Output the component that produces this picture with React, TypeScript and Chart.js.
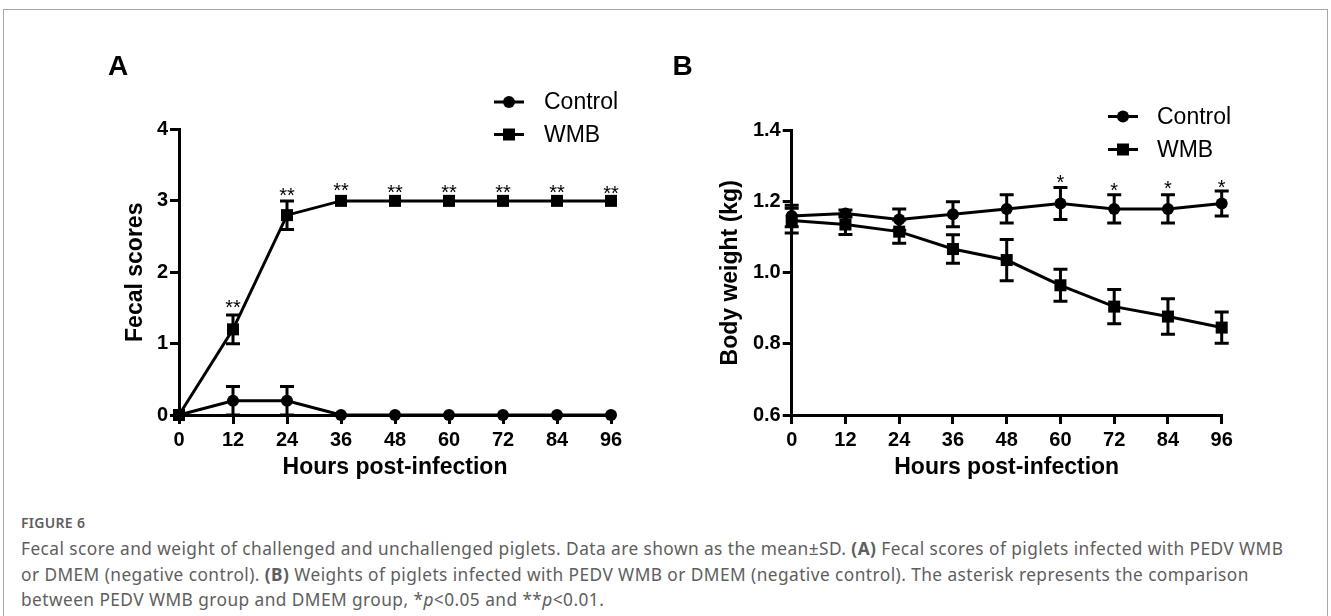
import React, { useEffect, useRef } from "react";
import { Chart, registerables } from "chart.js";

Chart.register(...registerables);

// ---------------- data ----------------
const hours = [0, 12, 24, 36, 48, 60, 72, 84, 96];
const seriesNames = ["Control", "WMB"];

const fecalControl = [0, 0.2, 0.2, 0, 0, 0, 0, 0, 0];
const fecalControlSD = [0, 0.2, 0.2, 0, 0, 0, 0, 0, 0];
const fecalWMB = [0, 1.2, 2.8, 3, 3, 3, 3, 3, 3];
const fecalWMBSD = [0, 0.2, 0.2, 0, 0, 0, 0, 0, 0];
const fecalStars = ["", "**", "**", "**", "**", "**", "**", "**", "**"];
const fecalStarLevel = [0, 1.575, 3.14, 3.21, 3.19, 3.19, 3.19, 3.19, 3.17];
const fecalTicks = [0, 1, 2, 3, 4];

const weightControl = [1.16, 1.167, 1.15, 1.165, 1.18, 1.195, 1.18, 1.18, 1.195];
const weightControlSD = [0.03, 0.01, 0.03, 0.035, 0.04, 0.045, 0.04, 0.04, 0.035];
const weightWMB = [1.147, 1.136, 1.116, 1.067, 1.036, 0.965, 0.905, 0.877, 0.846];
const weightWMBSD = [0.035, 0.028, 0.033, 0.04, 0.058, 0.045, 0.048, 0.05, 0.044];
const weightStars = ["", "", "", "", "", "*", "*", "*", "*"];
const weightStarLevel = [0, 0, 0, 0, 0, 1.269, 1.247, 1.251, 1.253];
const weightTicks = [0.6, 0.8, 1.0, 1.2, 1.4];

// ---------------- styling ----------------
const FONT = "'Liberation Sans', Arial, Helvetica, sans-serif";
Chart.defaults.font.family = FONT;

type PanelCfg = {
  letter: string;
  letterX: number;
  canvasW: number;
  canvasH: number;
  plotLeft: number;
  plotRight: number;
  plotTop: number;
  plotBottom: number;
  yTitle: string;
  yTitleX: number;
  yTicks: number[];
  decimals: number;
  control: number[];
  controlSD: number[];
  wmb: number[];
  wmbSD: number[];
  stars: string[];
  starLevel: number[];
  legendLineX: [number, number];
  legendTextX: number;
  legendY: [number, number];
};

const pts = (vals: number[]) => vals.map((v, i) => ({ x: hours[i], y: v }));

function overlayPlugin(cfg: PanelCfg) {
  return {
    id: "overlay" + cfg.letter,
    afterDatasetsDraw(chart: any) {
      const ctx = chart.ctx as CanvasRenderingContext2D;
      const ys = chart.scales.y;
      const xs = chart.scales.x;
      ctx.save();
      ctx.strokeStyle = "#000";
      ctx.fillStyle = "#000";
      ctx.lineWidth = 3;
      const sds = [cfg.controlSD, cfg.wmbSD];
      const vals = [cfg.control, cfg.wmb];
      sds.forEach((sd, di) => {
        sd.forEach((s, j) => {
          if (!s) return;
          const x = xs.getPixelForValue(hours[j]);
          const yT = ys.getPixelForValue(vals[di][j] + s);
          const yB = ys.getPixelForValue(vals[di][j] - s);
          ctx.beginPath();
          ctx.moveTo(x, yT);
          ctx.lineTo(x, yB);
          ctx.moveTo(x - 7, yT);
          ctx.lineTo(x + 7, yT);
          ctx.moveTo(x - 7, yB);
          ctx.lineTo(x + 7, yB);
          ctx.stroke();
        });
      });
      // significance asterisks
      ctx.font = `20px ${FONT}`;
      ctx.textAlign = "center";
      ctx.textBaseline = "alphabetic";
      cfg.stars.forEach((s, j) => {
        if (!s) return;
        const x = xs.getPixelForValue(hours[j]);
        const y = ys.getPixelForValue(cfg.starLevel[j]);
        ctx.fillText(s, x, y + 11.5);
      });
      ctx.restore();
    },
    afterDraw(chart: any) {
      const ctx = chart.ctx as CanvasRenderingContext2D;
      ctx.save();
      ctx.strokeStyle = "#000";
      ctx.fillStyle = "#000";
      ctx.lineWidth = 3;
      // legend
      seriesNames.forEach((name, i) => {
        const y = cfg.legendY[i];
        const [x1, x2] = cfg.legendLineX;
        ctx.beginPath();
        ctx.moveTo(x1, y);
        ctx.lineTo(x2, y);
        ctx.stroke();
        const mx = (x1 + x2) / 2;
        if (i === 0) {
          ctx.beginPath();
          ctx.arc(mx, y, 6, 0, Math.PI * 2);
          ctx.fill();
        } else {
          ctx.fillRect(mx - 6, y - 6, 12, 12);
        }
        ctx.font = `23px ${FONT}`;
        ctx.textAlign = "left";
        ctx.textBaseline = "middle";
        ctx.fillText(name, cfg.legendTextX, y + 1);
      });
      // panel letter
      ctx.font = `bold 28px ${FONT}`;
      ctx.textAlign = "center";
      ctx.textBaseline = "alphabetic";
      ctx.fillText(cfg.letter, cfg.letterX, 75);
      ctx.restore();
    },
  };
}

function buildConfig(cfg: PanelCfg): any {
  const tickFont = { size: 20, weight: "bold" as const, family: FONT };
  const titleFont = { size: 23, weight: "bold" as const, family: FONT };
  const grid = {
    display: true,
    drawOnChartArea: false,
    drawTicks: true,
    tickLength: 9,
    tickWidth: 3,
    lineWidth: 3,
    color: "#000",
    tickColor: "#000",
  };
  const lh = 23 * 1.2;
  return {
    type: "line",
    data: {
      datasets: [
        {
          label: seriesNames[0],
          data: pts(cfg.control),
          borderColor: "#000",
          backgroundColor: "#000",
          borderWidth: 3,
          pointStyle: "circle",
          pointRadius: 6,
          pointBorderWidth: 0,
          pointBackgroundColor: "#000",
          tension: 0,
          clip: false,
        },
        {
          label: seriesNames[1],
          data: pts(cfg.wmb),
          borderColor: "#000",
          backgroundColor: "#000",
          borderWidth: 3,
          pointStyle: "rect",
          pointRadius: 8.5,
          pointBorderWidth: 0,
          pointBackgroundColor: "#000",
          tension: 0,
          clip: false,
        },
      ],
    },
    options: {
      animation: false,
      responsive: false,
      maintainAspectRatio: false,
      layout: {
        padding: {
          left: 0,
          top: cfg.plotTop,
          right: cfg.canvasW - cfg.plotRight,
          bottom: 0,
        },
      },
      plugins: {
        legend: { display: false },
        tooltip: { enabled: false },
        title: { display: false },
      },
      scales: {
        x: {
          type: "linear",
          min: hours[0],
          max: hours[hours.length - 1],
          ticks: {
            stepSize: hours[1] - hours[0],
            color: "#000",
            font: tickFont,
            padding: 4,
            maxRotation: 0,
            autoSkip: false,
          },
          grid,
          border: { display: true, width: 3, color: "#000" },
          title: {
            display: true,
            text: "Hours post-infection",
            color: "#000",
            font: titleFont,
            padding: { top: 0, bottom: cfg.canvasH - 468 - lh / 2 },
          },
          afterFit: (s: any) => {
            s.height = cfg.canvasH - cfg.plotBottom;
          },
        },
        y: {
          type: "linear",
          min: cfg.yTicks[0],
          max: cfg.yTicks[cfg.yTicks.length - 1],
          ticks: {
            stepSize: cfg.yTicks[1] - cfg.yTicks[0],
            color: "#000",
            font: tickFont,
            padding: 2,
            callback: (v: number) => Number(v).toFixed(cfg.decimals),
          },
          afterBuildTicks: (s: any) => {
            s.ticks = cfg.yTicks.map((v) => ({ value: v }));
          },
          grid,
          border: { display: true, width: 3, color: "#000" },
          title: {
            display: true,
            text: cfg.yTitle,
            color: "#000",
            font: titleFont,
            padding: { top: cfg.yTitleX - lh / 2, bottom: 0 },
          },
          afterFit: (s: any) => {
            s.width = cfg.plotLeft;
          },
        },
      },
    },
    plugins: [overlayPlugin(cfg)],
  };
}

const panelA: PanelCfg = {
  letter: "A",
  letterX: 118,
  canvasW: 660,
  canvasH: 500,
  plotLeft: 179,
  plotRight: 611,
  plotTop: 129.5,
  plotBottom: 415,
  yTitle: "Fecal scores",
  yTitleX: 136,
  yTicks: fecalTicks,
  decimals: 0,
  control: fecalControl,
  controlSD: fecalControlSD,
  wmb: fecalWMB,
  wmbSD: fecalWMBSD,
  stars: fecalStars,
  starLevel: fecalStarLevel,
  legendLineX: [494, 524],
  legendTextX: 544,
  legendY: [102, 134.5],
};

const B_LEFT = 640;
const panelB: PanelCfg = {
  letter: "B",
  letterX: 682.5 - B_LEFT,
  canvasW: 680,
  canvasH: 500,
  plotLeft: 791.7 - B_LEFT,
  plotRight: 1221.7 - B_LEFT,
  plotTop: 130.7,
  plotBottom: 415,
  yTitle: "Body weight (kg)",
  yTitleX: 730.7 - B_LEFT,
  yTicks: weightTicks,
  decimals: 1,
  control: weightControl,
  controlSD: weightControlSD,
  wmb: weightWMB,
  wmbSD: weightWMBSD,
  stars: weightStars,
  starLevel: weightStarLevel,
  legendLineX: [1108 - B_LEFT, 1138 - B_LEFT],
  legendTextX: 1157 - B_LEFT,
  legendY: [116.5, 149.5],
};

function Panel({ cfg, left }: { cfg: PanelCfg; left: number }) {
  const ref = useRef<HTMLCanvasElement | null>(null);
  useEffect(() => {
    if (!ref.current) return;
    const chart = new Chart(ref.current, buildConfig(cfg));
    return () => chart.destroy();
  }, [cfg]);
  return (
    <canvas
      ref={ref}
      width={cfg.canvasW}
      height={cfg.canvasH}
      style={{
        position: "absolute",
        left,
        top: 0,
        width: cfg.canvasW,
        height: cfg.canvasH,
      }}
    />
  );
}

const captionFont = "'Noto Sans', 'Open Sans', sans-serif";
const captionColor = "#5e5e5e";

export default function App() {
  const lineStyle = (top: number): React.CSSProperties => ({
    position: "absolute",
    left: 21,
    top,
    height: 26,
    lineHeight: "26px",
    fontSize: 17.3,
    letterSpacing: 0.44,
    fontFamily: captionFont,
    color: captionColor,
    whiteSpace: "nowrap",
  });
  return (
    <div
      style={{
        position: "absolute",
        left: 0,
        top: 0,
        width: 1331,
        height: 616,
        overflow: "hidden",
        background: "#fff",
      }}
    >
      <div
        style={{
          position: "absolute",
          left: 3,
          top: 9,
          width: 1323,
          height: 700,
          border: "1px solid #a8a8a8",
        }}
      />
      <Panel cfg={panelA} left={0} />
      <Panel cfg={panelB} left={B_LEFT} />
      <div
        style={{
          ...lineStyle(510),
          fontSize: 14,
          fontWeight: 600,
          letterSpacing: 0.3,
        }}
      >
        FIGURE 6
      </div>
      <div style={lineStyle(536)}>
        Fecal score and weight of challenged and unchallenged piglets. Data are shown as the mean±SD.{" "}
        <b>(A)</b> Fecal scores of piglets infected with PEDV WMB
      </div>
      <div style={lineStyle(562)}>
        or DMEM (negative control). <b>(B)</b> Weights of piglets infected with PEDV WMB or DMEM (negative
        control). The asterisk represents the comparison
      </div>
      <div style={lineStyle(587)}>
        between PEDV WMB group and DMEM group, *<i>p</i>&lt;0.05 and **<i>p</i>&lt;0.01.
      </div>
    </div>
  );
}
